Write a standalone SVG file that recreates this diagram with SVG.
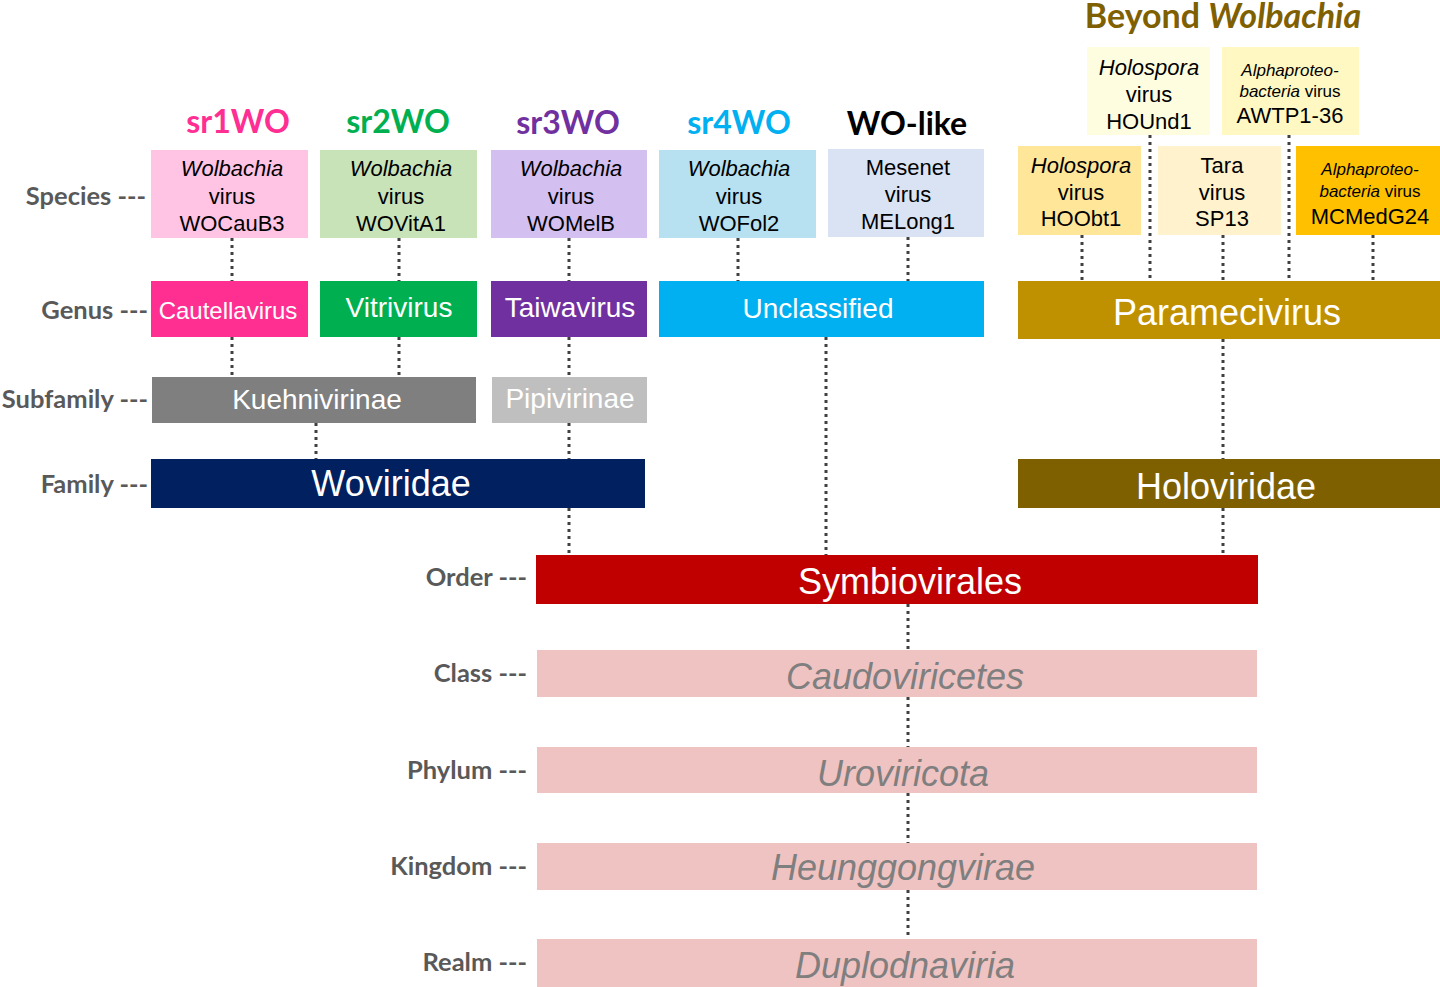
<svg xmlns="http://www.w3.org/2000/svg" width="1440" height="987" viewBox="0 0 1440 987">
<style>
.lab{font-family:Lato,"Open Sans",sans-serif;font-weight:bold;font-size:25.5px;fill:#595959;text-anchor:end}
.hdr{font-family:Lato,"Open Sans",sans-serif;font-weight:bold;font-size:32px;text-anchor:middle}
.sp{font-family:"Liberation Sans",Arial,sans-serif;font-size:22px;fill:#000;text-anchor:middle}
.sm{font-size:17px}
.it{font-style:italic}
.w{font-family:"Liberation Sans",Arial,sans-serif;fill:#fff;text-anchor:middle}
.g{font-family:"Liberation Sans",Arial,sans-serif;fill:#7f7f7f;font-style:italic;font-size:36px;text-anchor:middle}
.con line{stroke:#404040;stroke-width:3;stroke-dasharray:3 4;fill:none}
</style>
<rect width="1440" height="987" fill="#fff"/>

<g id="connectors" class="con">
<line x1="232" y1="238" x2="232" y2="281"/>
<line x1="399" y1="238" x2="399" y2="281"/>
<line x1="569" y1="238" x2="569" y2="281"/>
<line x1="738" y1="238" x2="738" y2="281"/>
<line x1="908" y1="237" x2="908" y2="281"/>
<line x1="1082" y1="235" x2="1082" y2="281"/>
<line x1="1150" y1="135" x2="1150" y2="281"/>
<line x1="1223" y1="235" x2="1223" y2="281"/>
<line x1="1289" y1="135" x2="1289" y2="281"/>
<line x1="1373" y1="235" x2="1373" y2="281"/>
<line x1="232" y1="337" x2="232" y2="377"/>
<line x1="399" y1="337" x2="399" y2="377"/>
<line x1="569" y1="337" x2="569" y2="377"/>
<line x1="316" y1="423" x2="316" y2="459"/>
<line x1="569" y1="423" x2="569" y2="459"/>
<line x1="569" y1="508" x2="569" y2="555"/>
<line x1="826" y1="337" x2="826" y2="555"/>
<line x1="1223" y1="339" x2="1223" y2="459"/>
<line x1="1223" y1="508" x2="1223" y2="555"/>
<line x1="908" y1="604" x2="908" y2="650"/>
<line x1="908" y1="697" x2="908" y2="747"/>
<line x1="908" y1="793" x2="908" y2="843"/>
<line x1="908" y1="890" x2="908" y2="939"/>
</g>

<g id="rank-labels">
<text class="lab" x="146" y="205">Species ---</text>
<text class="lab" x="148" y="319">Genus ---</text>
<text class="lab" x="148" y="408">Subfamily ---</text>
<text class="lab" x="148" y="493">Family ---</text>
<text class="lab" x="527" y="586">Order ---</text>
<text class="lab" x="527" y="682">Class ---</text>
<text class="lab" x="527" y="779">Phylum ---</text>
<text class="lab" x="527" y="875">Kingdom ---</text>
<text class="lab" x="527" y="971">Realm ---</text>
</g>

<g id="headers">
<text class="hdr" x="238" y="133" fill="#ff2e93">sr1WO</text>
<text class="hdr" x="398" y="133" fill="#00b050">sr2WO</text>
<text class="hdr" x="568" y="134" fill="#7030a0">sr3WO</text>
<text class="hdr" x="739" y="134" fill="#00b0f0">sr4WO</text>
<text class="hdr" x="907" y="135" fill="#000">WO-like</text>
<text class="hdr" x="1223" y="28" fill="#7f6000" style="font-size:34px">Beyond <tspan font-style="italic">Wolbachia</tspan></text>
</g>

<g id="sp-WOCauB3"><rect x="151" y="150" width="157" height="88" fill="#ffc4e4"/>
<text class="sp" x="232"><tspan class="it" x="232" y="176">Wolbachia</tspan><tspan x="232" y="204">virus</tspan><tspan x="232" y="231">WOCauB3</tspan></text></g>
<g id="sp-WOVitA1"><rect x="320" y="150" width="157" height="88" fill="#c9e3b9"/>
<text class="sp"><tspan class="it" x="401" y="176">Wolbachia</tspan><tspan x="401" y="204">virus</tspan><tspan x="401" y="231">WOVitA1</tspan></text></g>
<g id="sp-WOMelB"><rect x="491" y="150" width="156" height="88" fill="#d3bff0"/>
<text class="sp"><tspan class="it" x="571" y="176">Wolbachia</tspan><tspan x="571" y="204">virus</tspan><tspan x="571" y="231">WOMelB</tspan></text></g>
<g id="sp-WOFol2"><rect x="659" y="150" width="157" height="88" fill="#b7e0f1"/>
<text class="sp"><tspan class="it" x="739" y="176">Wolbachia</tspan><tspan x="739" y="204">virus</tspan><tspan x="739" y="231">WOFol2</tspan></text></g>
<g id="sp-MELong1"><rect x="828" y="149" width="156" height="88" fill="#dae3f3"/>
<text class="sp"><tspan x="908" y="175">Mesenet</tspan><tspan x="908" y="202">virus</tspan><tspan x="908" y="229">MELong1</tspan></text></g>

<g id="sp-HOUnd1"><rect x="1087" y="47" width="123" height="88" fill="#fffde0"/>
<text class="sp"><tspan class="it" x="1149" y="75">Holospora</tspan><tspan x="1149" y="102">virus</tspan><tspan x="1149" y="129">HOUnd1</tspan></text></g>
<g id="sp-AWTP1-36"><rect x="1222" y="47" width="137" height="88" fill="#fff8c2"/>
<text class="sp"><tspan class="it sm" x="1290" y="76">Alphaproteo-</tspan><tspan class="sm" x="1290" y="97"><tspan class="it">bacteria</tspan> virus</tspan><tspan x="1290" y="123">AWTP1-36</tspan></text></g>
<g id="sp-HOObt1"><rect x="1018" y="146" width="123" height="89" fill="#ffe699"/>
<text class="sp"><tspan class="it" x="1081" y="173">Holospora</tspan><tspan x="1081" y="200">virus</tspan><tspan x="1081" y="226">HOObt1</tspan></text></g>
<g id="sp-SP13"><rect x="1158" y="146" width="123" height="89" fill="#fff2cc"/>
<text class="sp"><tspan x="1222" y="173">Tara</tspan><tspan x="1222" y="200">virus</tspan><tspan x="1222" y="226">SP13</tspan></text></g>
<g id="sp-MCMedG24"><rect x="1296" y="146" width="144" height="89" fill="#ffc000"/>
<text class="sp"><tspan class="it sm" x="1370" y="175">Alphaproteo-</tspan><tspan class="sm" x="1370" y="197"><tspan class="it">bacteria</tspan> virus</tspan><tspan x="1370" y="224">MCMedG24</tspan></text></g>

<g id="g-Cautellavirus"><rect x="151" y="281" width="157" height="56" fill="#ff2f92"/><text class="w" x="228" y="319" font-size="24">Cautellavirus</text></g>
<g id="g-Vitrivirus"><rect x="320" y="281" width="157" height="56" fill="#00b050"/><text class="w" x="399" y="317" font-size="28">Vitrivirus</text></g>
<g id="g-Taiwavirus"><rect x="491" y="281" width="156" height="56" fill="#7030a0"/><text class="w" x="570" y="317" font-size="28">Taiwavirus</text></g>
<g id="g-Unclassified"><rect x="659" y="281" width="325" height="56" fill="#00b0f0"/><text class="w" x="818" y="318" font-size="28">Unclassified</text></g>
<g id="g-Paramecivirus"><rect x="1018" y="281" width="422" height="58" fill="#bf9000"/><text class="w" x="1227" y="325" font-size="36">Paramecivirus</text></g>

<g id="sf-Kuehnivirinae"><rect x="152" y="377" width="324" height="46" fill="#7f7f7f"/><text class="w" x="317" y="409" font-size="28">Kuehnivirinae</text></g>
<g id="sf-Pipivirinae"><rect x="492" y="377" width="155" height="46" fill="#bfbfbf"/><text class="w" x="570" y="408" font-size="28">Pipivirinae</text></g>

<g id="f-Woviridae"><rect x="151" y="459" width="494" height="49" fill="#002060"/><text class="w" x="391" y="496" font-size="36">Woviridae</text></g>
<g id="f-Holoviridae"><rect x="1018" y="459" width="422" height="49" fill="#7f6000"/><text class="w" x="1226" y="499" font-size="36">Holoviridae</text></g>

<g id="o-Symbiovirales"><rect x="536" y="555" width="722" height="49" fill="#c00000"/><text class="w" x="910" y="594" font-size="36">Symbiovirales</text></g>
<g id="c-Caudoviricetes"><rect x="537" y="650" width="720" height="47" fill="#f0c3c3"/><text class="g" x="905" y="689">Caudoviricetes</text></g>
<g id="p-Uroviricota"><rect x="537" y="747" width="720" height="46" fill="#f0c3c3"/><text class="g" x="903" y="786">Uroviricota</text></g>
<g id="k-Heunggongvirae"><rect x="537" y="843" width="720" height="47" fill="#f0c3c3"/><text class="g" x="903" y="880">Heunggongvirae</text></g>
<g id="r-Duplodnaviria"><rect x="537" y="939" width="720" height="48" fill="#f0c3c3"/><text class="g" x="905" y="978">Duplodnaviria</text></g>
</svg>
